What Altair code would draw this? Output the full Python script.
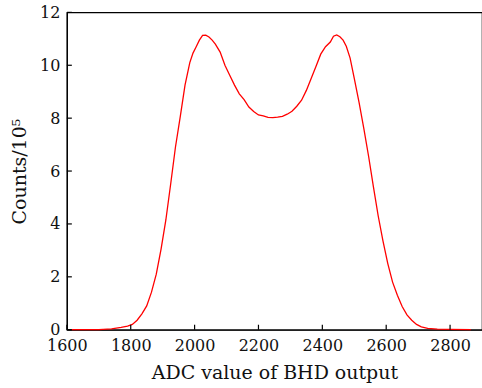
import altair as alt
import pandas as pd

adc = [1615, 1650, 1700, 1740, 1770, 1790, 1805, 1820, 1835, 1850, 1865, 1880,
       1895, 1910, 1925, 1940, 1955, 1970, 1985, 1995, 2005, 2015, 2025, 2035,
       2045, 2055, 2065, 2080, 2095, 2110, 2125, 2140, 2155, 2170, 2185, 2200,
       2215, 2230, 2245, 2260, 2275, 2290, 2305, 2320, 2335, 2350, 2365, 2380,
       2395, 2410, 2425, 2435, 2445, 2455, 2465, 2475, 2487, 2500, 2515, 2530,
       2545, 2560, 2575, 2590, 2605, 2620, 2635, 2650, 2665, 2680, 2695, 2710,
       2730, 2760, 2800, 2865]
counts = [0.0, 0.0, 0.005, 0.03, 0.09, 0.14, 0.2, 0.36, 0.6, 0.9, 1.42, 2.1,
          3.05, 4.15, 5.5, 6.9, 8.05, 9.25, 10.1, 10.46, 10.7, 10.95, 11.13, 11.14,
          11.07, 10.95, 10.8, 10.5, 10.0, 9.62, 9.25, 8.92, 8.7, 8.42, 8.25, 8.12,
          8.09, 8.03, 8.02, 8.04, 8.07, 8.15, 8.26, 8.45, 8.68, 9.05, 9.5, 9.95,
          10.42, 10.7, 10.88, 11.1, 11.15, 11.08, 10.95, 10.72, 10.27, 9.5, 8.6, 7.6,
          6.55, 5.4, 4.3, 3.35, 2.5, 1.8, 1.3, 0.88, 0.56, 0.36, 0.2, 0.11,
          0.05, 0.02, 0.01, 0.0]

x_ticks = [1600, 1800, 2000, 2200, 2400, 2600, 2800]
y_ticks = [0, 2, 4, 6, 8, 10, 12]

W, H = 416, 318
FONT = "DejaVu Serif"

df = pd.DataFrame({"adc": adc, "counts": counts})
xt = pd.DataFrame({"t": x_ticks})
yt = pd.DataFrame({"t": y_ticks})

xscale = alt.Scale(domain=[1600, 2900], nice=False)
yscale = alt.Scale(domain=[0, 12], nice=False)

line = alt.Chart(df).mark_line(color="#ff0000", strokeWidth=1.3).encode(
    x=alt.X("adc:Q", scale=xscale,
            axis=alt.Axis(title="ADC value of BHD output", values=x_ticks,
                          tickSize=0, labelPadding=8, titlePadding=10,
                          labelFlush=False, labelOverlap=False,
                          grid=False, format="d")),
    y=alt.Y("counts:Q", scale=yscale,
            axis=alt.Axis(title="Counts/10⁵", values=y_ticks,
                          tickSize=0, labelPadding=7, titlePadding=10,
                          labelFlush=False, labelOverlap=False,
                          grid=False, format="d")),
)

xtick = alt.Chart(xt).mark_rule(color="black", strokeWidth=1.2).encode(
    x=alt.X("t:Q", scale=xscale),
    y=alt.value(H - 5), y2=alt.value(H),
)
ytick = alt.Chart(yt).mark_rule(color="black", strokeWidth=1.2).encode(
    y=alt.Y("t:Q", scale=yscale),
    x=alt.value(0), x2=alt.value(5),
)

chart = alt.layer(line, xtick, ytick).properties(
    width=W, height=H,
    autosize=alt.AutoSizeParams(type="none"),
    padding={"left": 67, "top": 12, "right": 0, "bottom": 58},
).configure_view(
    stroke="black", strokeWidth=1.2
).configure_axis(
    domainColor="black", domainWidth=1.2,
    labelFont=FONT, labelFontSize=16, labelColor="#111",
    titleFont=FONT, titleFontSize=19, titleFontWeight="normal", titleColor="#111",
)

chart.save("out.html", embed_options={"renderer": "svg", "actions": False})
